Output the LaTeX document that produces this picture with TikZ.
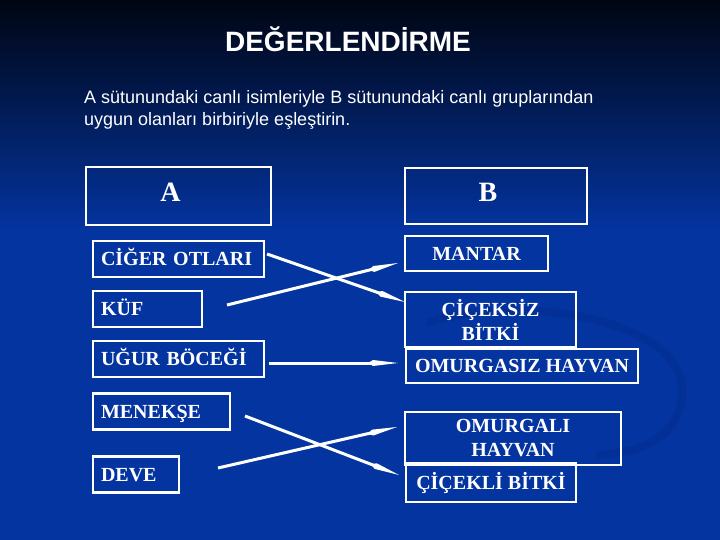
\documentclass[tikz,border=0pt]{standalone}
\usepackage{fontspec}
\setmainfont{Liberation Serif}
\newfontfamily\arial{Liberation Sans}
\usetikzlibrary{arrows.meta}
\definecolor{zemin}{RGB}{4,52,160}
\definecolor{koyu}{RGB}{0,5,18}
\definecolor{kivrim}{RGB}{2,40,128}

\begin{document}
\begin{tikzpicture}[x=1pt, y=-1pt,
    kutu/.style={draw=white, line width=2.5pt, text=white, inner sep=0pt, outer sep=0pt,
      font=\bfseries\fontsize{20}{24}\selectfont, align=center},
    solkutu/.style={kutu, anchor=west, minimum height=36pt, text width=#1, align=left,
      inner xsep=8pt, text height=13.5pt, text depth=0pt},
    baslikharf/.style={text=white, font=\bfseries\fontsize{28}{32}\selectfont},
    yazi/.style={text=white, inner sep=0pt, anchor=base west, font=\arial\fontsize{18}{21}\selectfont},
    eslesme/.style={draw=white, line width=3pt, -{Kite[length=30pt, width=6pt, inset=5pt]}},
  ]
  \useasboundingbox (0,0) rectangle (720,540);
  % arka plan
  \fill[zemin] (0,0) rectangle (720,540);
  \shade[top color=koyu, bottom color=zemin] (0,0) rectangle (720,230);
  \draw[kivrim, line width=8pt, opacity=0.3, line cap=round]
    (430,322) .. controls (520,292) and (695,320) .. (682,400) .. controls (674,440) and (640,452) .. (600,455);

  % baslik ve yonerge
  \node[anchor=base, text=white, font=\arial\bfseries\fontsize{28}{32}\selectfont] (baslik) at (348,52) {DEĞERLENDİRME};
  \node[yazi] (yonerge1) at (84,104) {A sütunundaki canlı isimleriyle B sütunundaki canlı gruplarından};
  \node[yazi] (yonerge2) at (84,125.5) {uygun olanları birbiriyle eşleştirin.};

  % sutun basliklari
  \node[kutu, minimum width=185pt, minimum height=58pt] (sutunA) at (178.5,196) {};
  \node[baslikharf] (harfA) at ([xshift=-8pt,yshift=4pt]sutunA.center) {A};
  \node[kutu, minimum width=182pt, minimum height=56pt] (sutunB) at (496,196) {};
  \node[baslikharf] (harfB) at ([xshift=-8pt,yshift=4pt]sutunB.center) {B};

  % A sutunu
  \node[solkutu=155pt] (ciger) at (93,259) {CİĞER OTLARI};
  \node[solkutu=93pt] (kuf) at (93,309) {KÜF};
  \node[solkutu=155pt] (ugur) at (93,359) {UĞUR BÖCEĞİ};
  \node[solkutu=121pt] (menekse) at (93,411.5) {MENEKŞE};
  \node[solkutu=70pt] (deve) at (93,474.5) {DEVE};

  % B sutunu
  \node[kutu, minimum width=143pt, minimum height=35pt] (mantar) at (476.5,253.5) {MANTAR};
  \node[kutu, minimum width=171pt, minimum height=55pt] (cicsiz) at (490.5,319.5) {ÇİÇEKSİZ\\BİTKİ};
  \node[kutu, minimum width=232pt, minimum height=34pt] (omsiz) at (522,366) {OMURGASIZ HAYVAN};
  \node[kutu, minimum width=216pt, minimum height=53pt] (omli) at (513,438.5) {OMURGALI\\HAYVAN};
  \node[kutu, minimum width=170pt, minimum height=39pt] (cicli) at (491,482.5) {ÇİÇEKLİ BİTKİ};

  % eslestirmeler
  \draw[eslesme] ([xshift=3pt,yshift=5pt]ciger.east) -- ([yshift=-10pt]cicsiz.north west);
  \draw[eslesme] ([xshift=25pt,yshift=4pt]kuf.east) -- ([xshift=-7pt,yshift=-9.5pt]mantar.west);
  \draw[eslesme] ([xshift=5pt,yshift=-4pt]ugur.east) -- ([xshift=-8pt,yshift=3pt]omsiz.west);
  \draw[eslesme] ([xshift=15pt,yshift=-4.5pt]menekse.east) -- ([xshift=-7pt,yshift=7.5pt]cicli.west);
  \draw[eslesme] ([xshift=39pt,yshift=6.5pt]deve.east) -- ([xshift=-8pt,yshift=11.5pt]omli.west);
\end{tikzpicture}
\end{document}
